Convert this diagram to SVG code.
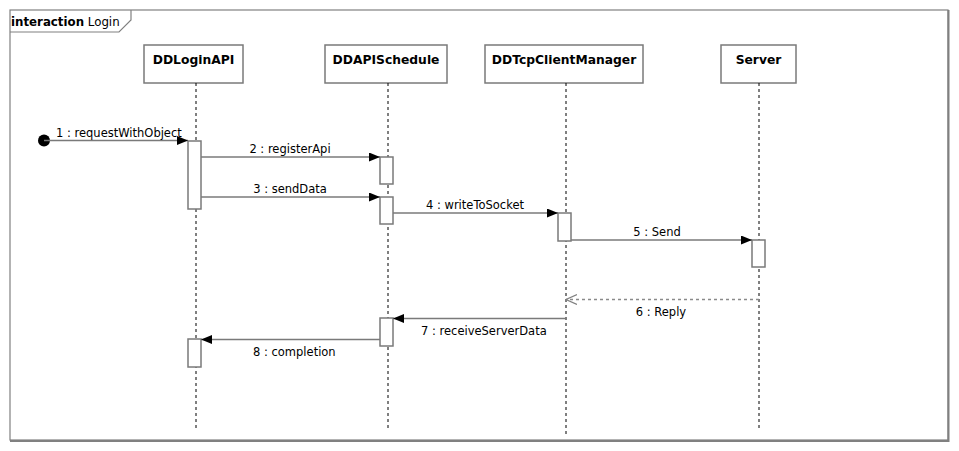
<svg xmlns="http://www.w3.org/2000/svg" width="959" height="451" viewBox="0 0 959 451">
<style>
  text { font-family: "DejaVu Sans", Verdana, sans-serif; fill: #000; }
  .lbl { font-size: 11.5px; }
  .title { font-size: 12.3px; font-weight: bold; text-anchor: middle; }
  .head { fill: #fff; stroke: #7a7a7a; stroke-width: 1.5; }
  .life { stroke: #000; stroke-width: 1; stroke-dasharray: 3 3; fill: none; }
  .act { fill: #fff; stroke: #7a7a7a; stroke-width: 1.5; }
  .msg { stroke: #7a7a7a; stroke-width: 1.5; fill: none; }
  .reply { stroke: #8a8a8a; stroke-width: 1.3; stroke-dasharray: 3 3; fill: none; }
  .mid { text-anchor: middle; }
</style>
<defs>
  <marker id="sync" markerUnits="userSpaceOnUse" markerWidth="12" markerHeight="10" refX="11" refY="4.5" orient="auto">
    <path d="M0,0 L11,4.5 L0,9 z" fill="#000"/>
  </marker>
  <marker id="open" markerUnits="userSpaceOnUse" markerWidth="12" markerHeight="12" refX="11" refY="5" orient="auto">
    <path d="M0,0 L11,5 L0,10" fill="none" stroke="#808080" stroke-width="1.2"/>
  </marker>
</defs>
<rect x="0" y="0" width="959" height="451" fill="#fff"/>

<g id="frame">
  <rect x="10" y="10" width="938" height="430" fill="none" stroke="#808080" stroke-width="1.2"/>
  <path d="M948.5,10 V441 H10" fill="none" stroke="#808080" stroke-width="2"/>
  <path d="M10,32 H119 L131,20 V10" fill="none" stroke="#808080" stroke-width="1.2"/>
  <text x="11" y="26" font-size="11.8px"><tspan font-weight="bold">interaction</tspan> Login</text>
</g>

<g id="DDLoginAPI">
  <rect class="head" x="144" y="45" width="99" height="38"/>
  <text class="title" x="193.5" y="63.5">DDLoginAPI</text>
  <line class="life" x1="196" y1="83" x2="196" y2="429"/>
</g>
<g id="DDAPISchedule">
  <rect class="head" x="325" y="45" width="122" height="38"/>
  <text class="title" x="386" y="63.5">DDAPISchedule</text>
  <line class="life" x1="388" y1="83" x2="388" y2="429"/>
</g>
<g id="DDTcpClientManager">
  <rect class="head" x="485" y="45" width="158" height="38"/>
  <text class="title" x="564" y="63.5">DDTcpClientManager</text>
  <line class="life" x1="566" y1="83" x2="566" y2="437"/>
</g>
<g id="Server">
  <rect class="head" x="721" y="45" width="75" height="38"/>
  <text class="title" x="758.5" y="63.5">Server</text>
  <line class="life" x1="759" y1="83" x2="759" y2="429"/>
</g>

<g id="activations">
  <rect class="act" x="188" y="141" width="13" height="68"/>
  <rect class="act" x="380" y="157" width="13" height="27"/>
  <rect class="act" x="380" y="197" width="13" height="27"/>
  <rect class="act" x="558" y="213" width="13" height="28"/>
  <rect class="act" x="752" y="240" width="13" height="27"/>
  <rect class="act" x="380" y="318" width="13" height="28"/>
  <rect class="act" x="188" y="339" width="13" height="28"/>
</g>

<g id="connectors">
  <circle cx="44" cy="140.5" r="6" fill="#000"/>
  <line class="msg" x1="44" y1="140.5" x2="188" y2="140.5" marker-end="url(#sync)"/>
  <line class="msg" x1="201" y1="157" x2="380" y2="157" marker-end="url(#sync)"/>
  <line class="msg" x1="201" y1="197" x2="380" y2="197" marker-end="url(#sync)"/>
  <line class="msg" x1="393" y1="213" x2="558" y2="213" marker-end="url(#sync)"/>
  <line class="msg" x1="571" y1="240" x2="752" y2="240" marker-end="url(#sync)"/>
  <line class="reply" x1="759" y1="299.5" x2="566" y2="299.5" marker-end="url(#open)"/>
  <line class="msg" x1="566" y1="318.5" x2="393" y2="318.5" marker-end="url(#sync)"/>
  <line class="msg" x1="380" y1="339.5" x2="201" y2="339.5" marker-end="url(#sync)"/>
</g>

<g id="labels">
  <text class="lbl" x="56" y="137">1 : requestWithObject</text>
  <text class="lbl mid" x="290" y="153">2 : registerApi</text>
  <text class="lbl mid" x="290" y="193">3 : sendData</text>
  <text class="lbl mid" x="475" y="209">4 : writeToSocket</text>
  <text class="lbl mid" x="657" y="236">5 : Send</text>
  <text class="lbl mid" x="661" y="316">6 : Reply</text>
  <text class="lbl" x="421" y="335">7 : receiveServerData</text>
  <text class="lbl" x="253" y="356">8 : completion</text>
</g>
</svg>
